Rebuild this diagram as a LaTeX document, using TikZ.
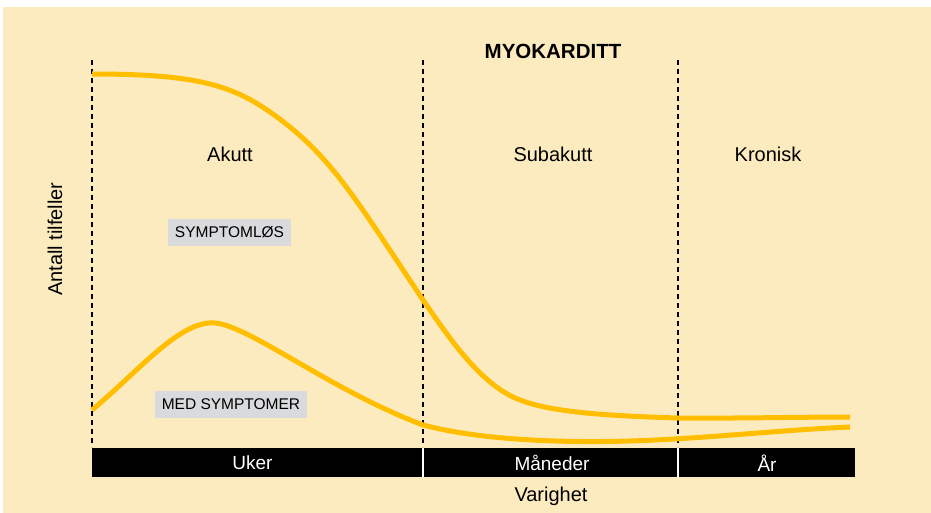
\documentclass[tikz,border=0pt]{standalone}
\usepackage{fontspec}
\setmainfont{Liberation Sans}
\definecolor{bgyellow}{HTML}{FDEBC0}
\definecolor{curvegold}{HTML}{FFBF00}
\definecolor{tagGray}{HTML}{D9DADC}
\begin{document}
\begin{tikzpicture}[x=1pt,y=-1pt,
  phase/.style={font=\fontsize{20}{24}\selectfont},
  tag/.style={fill=tagGray,font=\fontsize{15.5}{18}\selectfont,inner xsep=6.5pt,minimum height=27pt},
  barlabel/.style={text=white,font=\fontsize{19}{22}\selectfont},
  divider/.style={black,line width=1.5pt,dash pattern=on 5pt off 4pt},
  curve/.style={curvegold,line width=5pt}]
\useasboundingbox (0,0) rectangle (931,513);
\fill[white] (0,0) rectangle (931,513);
\fill[bgyellow] (3,7) rectangle (931,513);
% bar
\fill[black] (92,448) rectangle (855,477);
\draw[white,line width=2pt] (423,448) -- (423,477);
\draw[white,line width=2pt] (678,448) -- (678,477);
\node[barlabel] (uker) at (252.5,463) {Uker};
\node[barlabel] (mnd) at (552,463) {Måneder};
\node[barlabel] (aar) at (767,463) {År};
% dividers
\coordinate (d1t) at (92,60); \coordinate (d1b) at (92,447);
\coordinate (d2t) at (423,60); \coordinate (d2b) at (423,447);
\coordinate (d3t) at (678,60); \coordinate (d3b) at (678,447);
\draw[divider] (d1t) -- (d1b);
\draw[divider] (d2t) -- (d2b);
\draw[divider] (d3t) -- (d3b);
% texts
\node[font=\bfseries\fontsize{20.5}{24}\selectfont] (title) at (553,51) {MYOKARDITT};
\node[phase] (akutt) at (230,154) {Akutt};
\node[phase] (sub) at (553,154) {Subakutt};
\node[phase] (kron) at (768,154) {Kronisk};
\node[phase,rotate=90] (yl) at (55,239) {Antall tilfeller};
\node[phase] (xl) at (551,496) {Varighet};
\node[tag] (s1) at (229.5,232.5) {SYMPTOMLØS};
\node[tag] (s2) at (231,404.5) {MED SYMPTOMER};
% curves
\draw[curve] (92,74) .. controls (192,74) and (230,84) .. (270,112)
  .. controls (330,154) and (353,195) .. (423,300)
  .. controls (448,336) and (480,385) .. (520,400)
  .. controls (550,411.4) and (598,415.6) .. (678,418)
  .. controls (740,418.5) and (800,417) .. (850,417);
\draw[curve] (92,410) .. controls (140,370) and (180,320) .. (215,323)
  .. controls (250,326) and (330,390) .. (423,425)
  .. controls (480,440) and (560,443) .. (630,441)
  .. controls (700,439) and (780,430) .. (850,427);
\end{tikzpicture}
\end{document}
